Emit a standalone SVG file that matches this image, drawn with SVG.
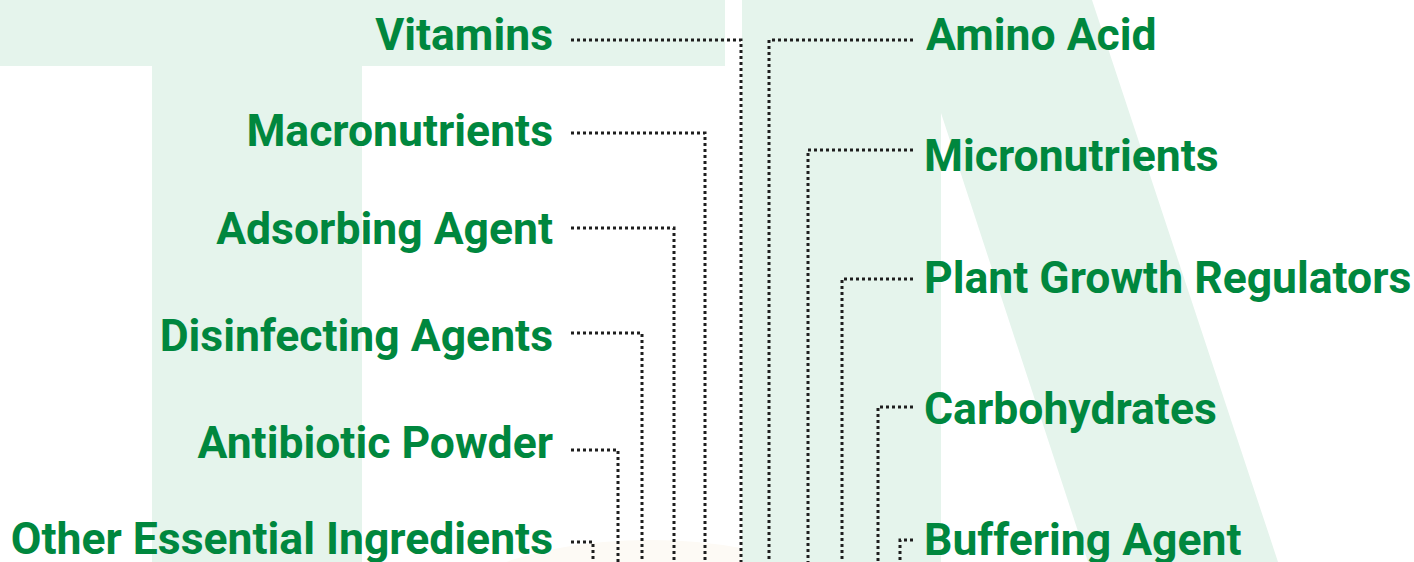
<svg xmlns="http://www.w3.org/2000/svg" width="1414" height="562" viewBox="0 0 1414 562">
<style>
.bg{fill:#e5f4ec}
.lbl{font-family:Roboto,"Liberation Sans",sans-serif;font-weight:700;font-size:44.5px;fill:#00873e}
.l{text-anchor:end}
.c{fill:none;stroke:#1e1e1e;stroke-width:3;stroke-dasharray:3 3}
</style>
<rect width="1414" height="562" fill="#ffffff"/>
<g id="background">
<ellipse cx="650" cy="650" rx="240" ry="110" fill="#fdfaf5"/>
<rect class="bg" x="0" y="0" width="725" height="66"/>
<rect class="bg" x="152" y="66" width="210" height="496"/>
<polygon class="bg" points="742,0 1092,0 1278,562 1088,562 941,113 941,562 742,562"/>
</g>
<g id="connectors">
<path class="c" d="M571,40H741V562"/>
<path class="c" d="M571,133H705V562"/>
<path class="c" d="M571,228H674V562"/>
<path class="c" d="M571,333H642V562"/>
<path class="c" d="M571,450H618V562"/>
<path class="c" d="M571,542H593V562"/>
<path class="c" d="M913,40H769V562"/>
<path class="c" d="M913,150H808V562"/>
<path class="c" d="M913,279H842V562"/>
<path class="c" d="M913,407H878V562"/>
<path class="c" d="M913,540H900V562"/>
</g>
<g id="n-vitamins"><text class="lbl l" x="553" y="50">Vitamins</text></g>
<g id="n-macronutrients"><text class="lbl l" x="553" y="146">Macronutrients</text></g>
<g id="n-adsorbing"><text class="lbl l" x="553" y="244">Adsorbing Agent</text></g>
<g id="n-disinfecting"><text class="lbl l" x="553" y="351">Disinfecting Agents</text></g>
<g id="n-antibiotic"><text class="lbl l" x="553" y="458">Antibiotic Powder</text></g>
<g id="n-other"><text class="lbl l" x="553" y="554">Other Essential Ingredients</text></g>
<g id="n-amino"><text class="lbl" x="926" y="50">Amino Acid</text></g>
<g id="n-micronutrients"><text class="lbl" x="924" y="171">Micronutrients</text></g>
<g id="n-pgr"><text class="lbl" x="924" y="293">Plant Growth Regulators</text></g>
<g id="n-carbohydrates"><text class="lbl" x="924" y="424">Carbohydrates</text></g>
<g id="n-buffering"><text class="lbl" x="924" y="555">Buffering Agent</text></g>
</svg>
